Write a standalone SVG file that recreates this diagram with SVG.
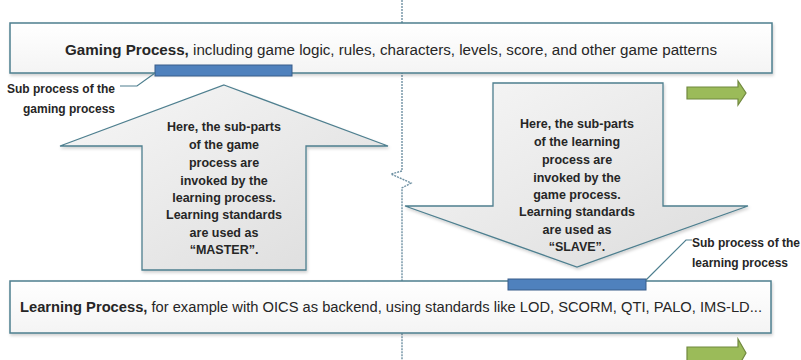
<svg xmlns="http://www.w3.org/2000/svg" width="801" height="360" viewBox="0 0 801 360">
<style>
.box{fill:url(#boxg);stroke:#4e7f8f;stroke-width:1.5}
.big{fill:url(#arrg);stroke:#4e7f8f;stroke-width:1.3}
.bar{fill:#4f81bd;stroke:#385d8a;stroke-width:1}
.green{fill:#9bbb59;stroke:#71893f;stroke-width:1.2}
.t{font-family:"Liberation Sans",Arial,sans-serif;fill:#262626}
.main{font-size:14px}
.b{font-weight:bold}
.at{font-size:12.5px;font-weight:bold;text-anchor:middle}
.lab{font-size:12px;font-weight:bold}
.lead{fill:none;stroke:#4e7f8f;stroke-width:1.2}
</style>
<defs>
<linearGradient id="boxg" x1="0" y1="0" x2="0" y2="1"><stop offset="0" stop-color="#ffffff"/><stop offset="1" stop-color="#f4f4f4"/></linearGradient>
<linearGradient id="arrg" x1="0" y1="0" x2="1" y2="1"><stop offset="0" stop-color="#f7f7f7"/><stop offset="1" stop-color="#dcdcdc"/></linearGradient>
<filter id="sh" x="-5%" y="-5%" width="110%" height="120%"><feDropShadow dx="1" dy="2" stdDeviation="1.5" flood-color="#000" flood-opacity="0.18"/></filter>
</defs>
<rect width="801" height="360" fill="#ffffff"/>
<g id="divider">
<path d="M402,0 V171 L391,174 L411,183 L402,188 V360" fill="none" stroke="#6f91a3" stroke-width="1.4" stroke-dasharray="2 1"/>
</g>
<g id="gaming-process">
<rect class="box" x="10" y="23" width="762" height="50" filter="url(#sh)"/>
<text class="t main" x="65" y="55" textLength="652" lengthAdjust="spacingAndGlyphs"><tspan class="b">Gaming Process,</tspan> including game logic, rules, characters, levels, score, and other game patterns</text>
</g>
<g id="learning-process">
<rect class="box" x="10" y="281" width="761" height="52" filter="url(#sh)"/>
<text class="t main" x="20" y="312" textLength="742" lengthAdjust="spacingAndGlyphs"><tspan class="b">Learning Process,</tspan> for example with OICS as backend, using standards like LOD, SCORM, QTI, PALO, IMS-LD...</text>
</g>
<g id="gaming-subprocess">
<rect class="bar" x="155" y="65" width="137" height="11"/>
<text class="t lab" x="115" y="93" text-anchor="end">Sub process of the</text>
<text class="t lab" x="115" y="113" text-anchor="end">gaming process</text>
</g>
<g id="learning-subprocess">
<rect class="bar" x="508" y="279" width="138" height="11"/>
<text class="t lab" x="692" y="247">Sub process of the</text>
<text class="t lab" x="692" y="267">learning process</text>
</g>
<g id="master-arrow">
<polygon class="big" points="224,85 388,146 306,146 306,270 142,270 142,146 60,146" filter="url(#sh)"/>
<text class="t at" x="224" y="131">Here, the sub-parts</text>
<text class="t at" x="224" y="149">of the game</text>
<text class="t at" x="224" y="167">process are</text>
<text class="t at" x="224" y="185">invoked by the</text>
<text class="t at" x="224" y="202">learning process.</text>
<text class="t at" x="224" y="219">Learning standards</text>
<text class="t at" x="224" y="237">are used as</text>
<text class="t at" x="224" y="254">“MASTER”.</text>
</g>
<g id="slave-arrow">
<polygon class="big" points="493,83 663,83 663,206 748,206 577,267 405,206 493,206" filter="url(#sh)"/>
<text class="t at" x="577" y="128">Here, the sub-parts</text>
<text class="t at" x="577" y="146">of the learning</text>
<text class="t at" x="577" y="164">process are</text>
<text class="t at" x="577" y="182">invoked by the</text>
<text class="t at" x="577" y="199">game process.</text>
<text class="t at" x="577" y="216">Learning standards</text>
<text class="t at" x="577" y="234">are used as</text>
<text class="t at" x="577" y="251">“SLAVE”.</text>
</g>
<g id="time-arrow-top">
<polygon class="green" points="687,87 738,87 738,81 746,93 738,105 738,99 687,99"/>
</g>
<g id="time-arrow-bottom">
<polygon class="green" points="687,347 738,347 738,339 746,353 738,367 738,361 687,361"/>
</g>
<g id="connectors">
<polyline class="lead" points="120,86 137,86 155,73"/>
<polyline class="lead" points="646,280 686,240 692,240"/>
</g>
</svg>
